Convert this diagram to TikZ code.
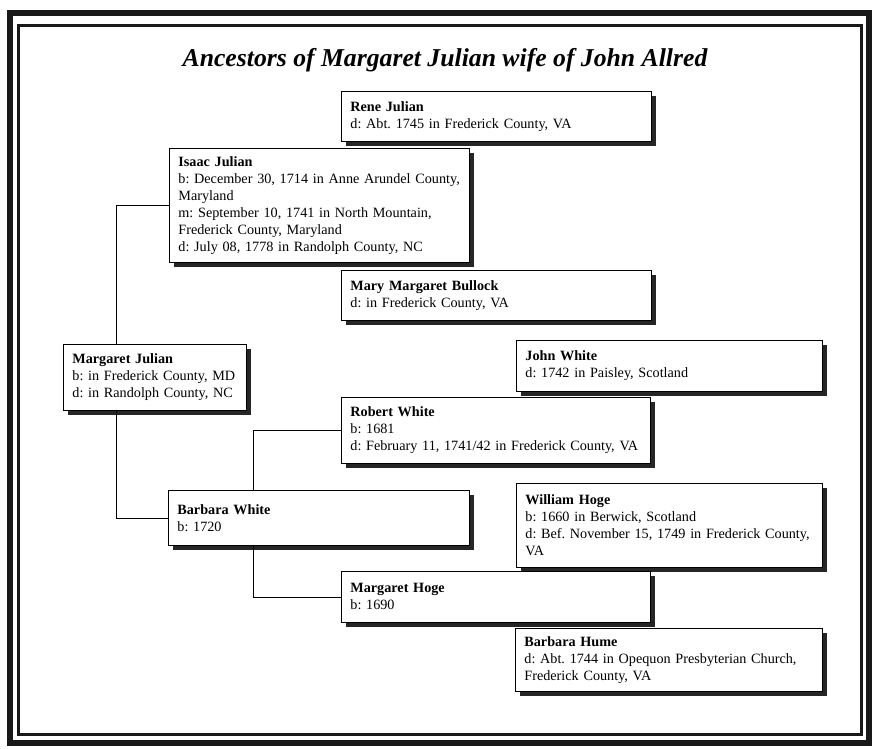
\documentclass[tikz,border=0pt]{standalone}
\usepackage{fontspec}
\setmainfont{Liberation Serif}
\usetikzlibrary{shadows}
\frenchspacing
\begin{document}
\begin{tikzpicture}[x=1pt,y=-1pt,
  person/.style n args={2}{draw=black, line width=0.8pt, fill=white, rectangle,
    anchor=north west, align=left, inner xsep=9pt, inner ysep=4pt,
    minimum width=#1pt, minimum height=#2pt, text width=#1pt-18pt,
    font=\fontsize{14.2}{17}\selectfont,
    drop shadow={shadow xshift=5pt, shadow yshift=-5pt, fill=black!85, opacity=1}},
  link/.style={draw=black, line width=0.8pt},
  frameout/.style={draw=black!90, line width=6pt},
  framein/.style={draw=black!90, line width=3pt}]
\useasboundingbox (0,0) rectangle (875,748);
\draw[frameout] (10,13) rectangle (869,743);
\draw[framein] (18.5,25.5) rectangle (861.5,734.5);
\node[font=\fontsize{25.7}{30}\bfseries\itshape\selectfont] (title) at (445,60) {Ancestors of Margaret Julian wife of John Allred};

\node[person={310}{50}] (rene) at (341,91) {\textbf{Rene Julian}\\d: Abt. 1745 in Frederick County, VA};
\node[person={300}{114}] (isaac) at (169,148) {\textbf{Isaac Julian}\\b: December 30, 1714 in Anne Arundel County,\\Maryland\\m: September 10, 1741 in North Mountain,\\Frederick County, Maryland\\d: July 08, 1778 in Randolph County, NC};
\node[person={310}{50}] (mary) at (341,270) {\textbf{Mary Margaret Bullock}\\d: in Frederick County, VA};
\node[person={183}{66}] (mjulian) at (63,344) {\textbf{Margaret Julian}\\b: in Frederick County, MD\\d: in Randolph County, NC};
\node[person={306}{51}] (jwhite) at (516,340) {\textbf{John White}\\d: 1742 in Paisley, Scotland};
\node[person={309}{66}] (rwhite) at (341,397) {\textbf{Robert White}\\b: 1681\\d: February 11, 1741/42 in Frederick County, VA};
\node[person={301}{55}] (bwhite) at (168,490) {\textbf{Barbara White}\\b: 1720};
\node[person={306}{84}] (whoge) at (516,483) {\textbf{William Hoge}\\b: 1660 in Berwick, Scotland\\d: Bef. November 15, 1749 in Frederick County,\\VA};
\node[person={309}{51}] (mhoge) at (341,571) {\textbf{Margaret Hoge}\\b: 1690};
\node[person={307}{63}] (bhume) at (515,628) {\textbf{Barbara Hume}\\d: Abt. 1744 in Opequon Presbyterian Church,\\Frederick County, VA};

\draw[link] (isaac.west) -| ([xshift=53pt]mjulian.north west);
\draw[link] ([xshift=53pt]mjulian.south west) |- (bwhite.west);
\draw[link] (rwhite.west) -| ([xshift=85pt]bwhite.north west);
\draw[link] ([xshift=85pt]bwhite.south west) |- (mhoge.west);
\end{tikzpicture}
\end{document}
